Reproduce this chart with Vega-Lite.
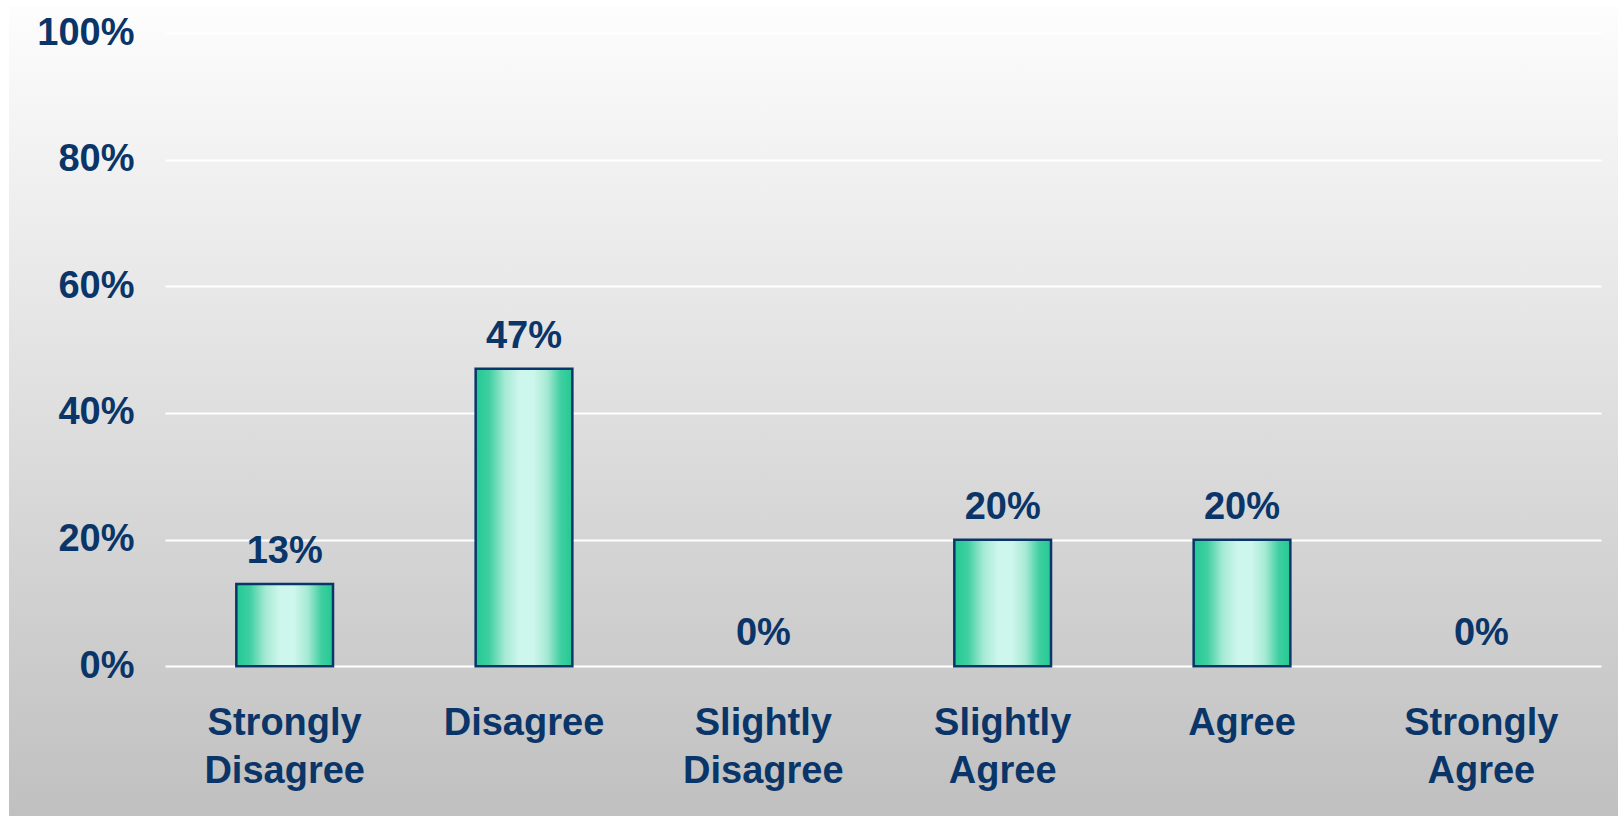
{
  "$schema": "https://vega.github.io/schema/vega-lite/v6.json",
  "width": 1609,
  "height": 810,
  "autosize": {"type": "none"},
  "padding": {"left": 9, "top": 6, "right": 0, "bottom": 0},
  "background": "#ffffff",
  "view": {
    "stroke": null,
    "fill": {
      "gradient": "linear",
      "x1": 0, "y1": 0, "x2": 0, "y2": 1,
      "stops": [
        {"offset": 0, "color": "#fdfdfd"},
        {"offset": 1, "color": "#c0c0c0"}
      ]
    }
  },
  "data": {
    "values": [
      {"category": "Strongly Disagree", "value": 0.13},
      {"category": "Disagree", "value": 0.47},
      {"category": "Slightly Disagree", "value": 0},
      {"category": "Slightly Agree", "value": 0.2},
      {"category": "Agree", "value": 0.2},
      {"category": "Strongly Agree", "value": 0}
    ]
  },
  "encoding": {
    "x": {
      "field": "category",
      "type": "nominal",
      "sort": ["Strongly Disagree", "Disagree", "Slightly Disagree", "Slightly Agree", "Agree", "Strongly Agree"],
      "scale": {"range": [156, 1592], "paddingInner": 0.596, "paddingOuter": 0.298},
      "axis": {
        "title": null,
        "orient": "bottom",
        "offset": -112,
        "domain": false,
        "ticks": false,
        "grid": false,
        "labelPadding": 0,
        "labelAngle": 0,
        "labelFont": "Liberation Sans",
        "labelFontWeight": "bold",
        "labelFontSize": 38,
        "labelColor": "#0a3568",
        "labelLineHeight": 48,
        "labelLimit": 0,
        "labelOverlap": false,
        "labelBound": false,
        "labelExpr": "split(datum.label, ' ')"
      }
    },
    "y": {
      "field": "value",
      "type": "quantitative",
      "scale": {"domain": [0, 1], "range": [660.3, 27], "nice": false},
      "axis": {
        "title": null,
        "orient": "left",
        "offset": -125,
        "domain": false,
        "ticks": false,
        "labelPadding": 0,
        "values": [0, 0.2, 0.4, 0.6, 0.8, 1],
        "format": ".0%",
        "grid": true,
        "gridColor": "#ffffff",
        "gridWidth": 2,
        "gridOpacity": 1,
        "labelFont": "Liberation Sans",
        "labelFontWeight": "bold",
        "labelFontSize": 38,
        "labelColor": "#0a3568",
        "labelBaseline": "middle",
        "labelOverlap": false,
        "labelBound": false
      }
    }
  },
  "layer": [
    {
      "transform": [{"filter": "datum.value > 0"}],
      "mark": {
        "type": "bar",
        "stroke": "#0a3568",
        "strokeWidth": 2.5,
        "fill": {
          "gradient": "linear",
          "x1": 0, "y1": 0, "x2": 1, "y2": 0,
          "stops": [
            {"offset": 0, "color": "#22c995"},
            {"offset": 0.14, "color": "#3fcfa0"},
            {"offset": 0.3, "color": "#a5ead3"},
            {"offset": 0.45, "color": "#cdf6ec"},
            {"offset": 0.6, "color": "#cdf6ec"},
            {"offset": 0.74, "color": "#a5ead3"},
            {"offset": 0.88, "color": "#3fcfa0"},
            {"offset": 1, "color": "#22c995"}
          ]
        }
      }
    },
    {
      "mark": {
        "type": "text",
        "baseline": "alphabetic",
        "dy": -21,
        "font": "Liberation Sans",
        "fontWeight": "bold",
        "fontSize": 38,
        "color": "#0a3568"
      },
      "encoding": {
        "text": {"field": "value", "type": "quantitative", "format": ".0%"}
      }
    }
  ]
}
